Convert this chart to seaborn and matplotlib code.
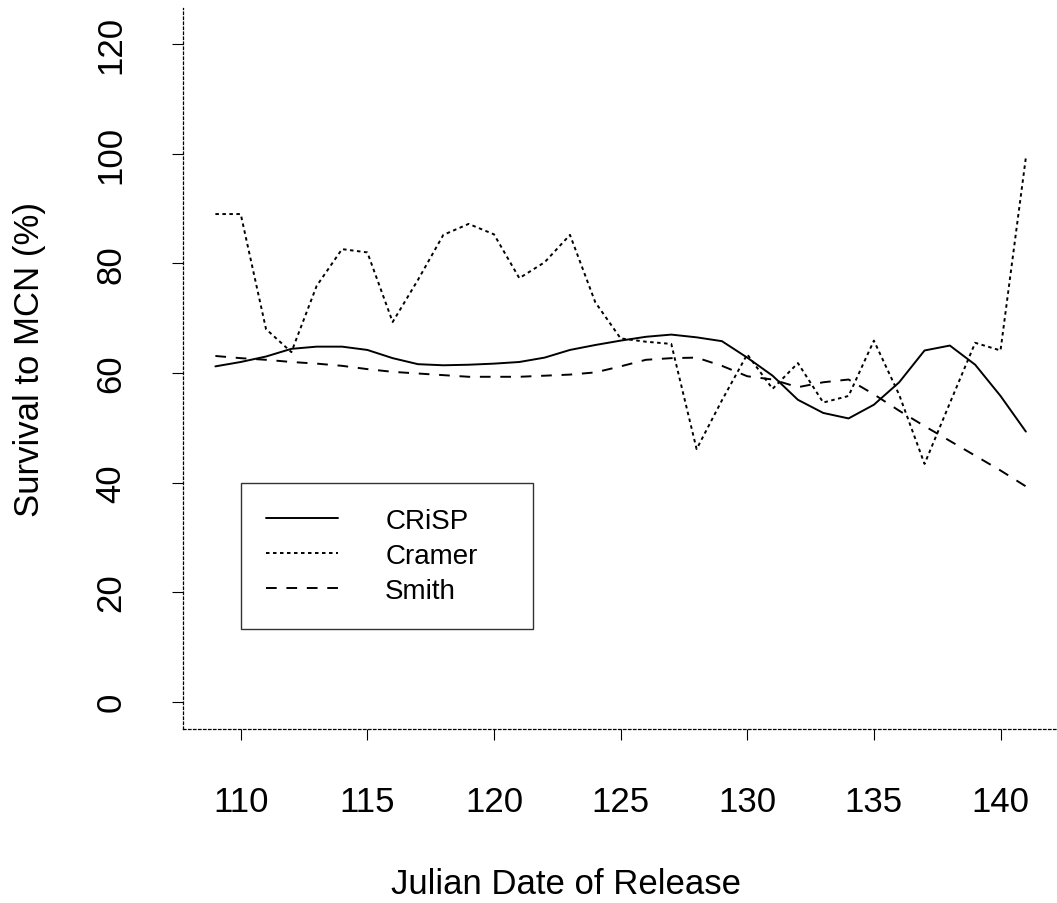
import numpy as np
import pandas as pd
import matplotlib
matplotlib.use("Agg")
import matplotlib.pyplot as plt
import seaborn as sns

# data (survival % by julian release day)
days = list(range(109, 142))

crisp = [61.2, 62.0, 63.0, 64.4, 64.8, 64.8, 64.2, 62.7, 61.6, 61.4, 61.5,
         61.7, 62.0, 62.8, 64.2, 65.1, 65.9, 66.6, 67.0, 66.5, 65.8, 62.8,
         59.5, 55.1, 52.7, 51.7, 54.2, 58.3, 64.1, 65.0, 61.5, 55.8, 49.3]

cramer = [89.0, 89.0, 68.0, 63.8, 75.9, 82.6, 82.0, 69.3, 77.0, 85.2, 87.2,
          85.3, 77.3, 80.2, 85.2, 72.9, 66.3, 65.7, 65.3, 46.1, 55.0, 63.4,
          57.1, 61.8, 54.6, 55.8, 65.9, 56.0, 43.4, 54.5, 65.5, 64.1, 99.3]

smith = [63.1, 62.7, 62.4, 62.0, 61.7, 61.3, 60.7, 60.2, 59.9, 59.6, 59.3,
         59.3, 59.3, 59.5, 59.7, 60.1, 61.2, 62.4, 62.7, 62.8, 61.3, 59.4,
         58.8, 57.4, 58.3, 58.8, 56.1, 53.1, 50.3, 47.6, 44.9, 42.2, 39.3]

series_names = ["CRiSP", "Cramer", "Smith"]
x_ticks = [110, 115, 120, 125, 130, 135, 140]
y_ticks = [0, 20, 40, 60, 80, 100, 120]

sns.set_style("white")
plt.rcParams['font.family'] = ['Liberation Sans', 'DejaVu Sans']
plt.rcParams['text.color'] = 'black'

fig = plt.figure(figsize=(10.57, 9.04), dpi=100)
ax = fig.add_axes([0.1731, 0.1925, 0.8269, 0.7975])

styles = {
    "CRiSP": "-",
    "Cramer": (0, (1.8, 1.8)),
    "Smith": (0, (5.5, 5.0)),
}
values = {"CRiSP": crisp, "Cramer": cramer, "Smith": smith}

for name in series_names:
    sns.lineplot(x=days, y=values[name], ax=ax, color="black",
                 linewidth=1.4, linestyle=styles[name], label=name)

ax.set_xlim(107.72, 142.23)
ax.set_ylim(-4.98, 126.6)
ax.set_xticks(x_ticks)
ax.set_yticks(y_ticks)
ax.set_xticklabels([str(t) for t in x_ticks])
ax.set_yticklabels([str(t) for t in y_ticks], rotation=90, va="center")

# dotted L-shaped frame like the original
for s in ["top", "right"]:
    ax.spines[s].set_visible(False)
for s in ["left", "bottom"]:
    ax.spines[s].set_linestyle((0, (2, 2)))
    ax.spines[s].set_linewidth(0.9)
    ax.spines[s].set_color("black")

ax.tick_params(axis="both", direction="out", length=8, width=0.8,
               bottom=True, left=True,
               color="black", labelsize=25, labelcolor="black")
ax.tick_params(axis="x", pad=32)
ax.tick_params(axis="y", pad=32)

ax.set_xlabel("")
ax.set_ylabel("")
fig.text(566 / 1057, 1 - 885 / 904, "Julian Date of Release", fontsize=25,
         ha="center", va="center", color="black")
fig.text(30 / 1057, 1 - 360 / 904, "Survival to MCN (%)", fontsize=25,
         ha="center", va="center", rotation=90, color="black")

leg = ax.legend(loc="upper left", bbox_to_anchor=(110, 12.96, 11.53, 27.04),
                bbox_transform=ax.transData, mode="expand", borderaxespad=0,
                fontsize=20, frameon=True, fancybox=False, handlelength=2.6,
                handletextpad=1.7, borderpad=0.9, labelspacing=0.33)
leg.get_frame().set_edgecolor("black")
leg.get_frame().set_linewidth(1.0)
for t in leg.get_texts():
    t.set_color("black")

fig.savefig("out.png", dpi=100)
